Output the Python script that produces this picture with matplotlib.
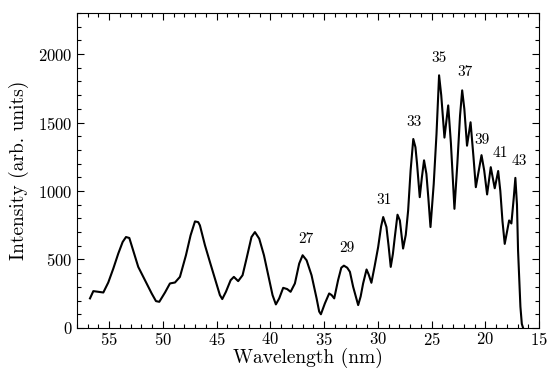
import numpy as np
import matplotlib
matplotlib.use("Agg")
import matplotlib.pyplot as plt
from matplotlib.ticker import MultipleLocator

plt.rcParams["font.family"] = "serif"
plt.rcParams["font.serif"] = ["cmr10", "DejaVu Serif"]
plt.rcParams["mathtext.fontset"] = "cm"
plt.rcParams["axes.formatter.use_mathtext"] = True

# spectrum (wavelength in nm, intensity in arb. units)
wavelength = [
    56.79, 56.48, 56.0, 55.55, 55.09, 54.62, 54.16, 53.75, 53.44, 53.13,
    52.83, 52.3, 51.67, 51.05, 50.65, 50.34, 49.81, 49.35, 48.88, 48.42,
    47.86, 47.43, 47.02, 46.72, 46.56, 46.09, 45.63, 45.16, 44.7, 44.48,
    44.14, 43.7, 43.4, 43.0, 42.59, 42.22, 41.76, 41.44, 41.04, 40.6,
    40.2, 39.8, 39.49, 39.18, 38.81, 38.44, 38.12, 37.72, 37.32, 37.0,
    36.63, 36.17, 35.7, 35.46, 35.3, 34.93, 34.53, 34.3, 34.06, 33.7,
    33.4, 33.16, 32.85, 32.6, 32.3, 31.83, 31.6, 31.37, 31.05, 30.85,
    30.6, 30.3, 29.97, 29.7, 29.5, 29.2, 29.0, 28.8, 28.6, 28.42,
    28.17, 27.95, 27.65, 27.4, 27.18, 26.95, 26.7, 26.5, 26.35, 26.1,
    25.9, 25.7, 25.48, 25.3, 25.1, 24.8, 24.54, 24.3, 24.1, 23.8,
    23.45, 23.2, 22.87, 22.6, 22.35, 22.15, 21.95, 21.7, 21.37, 21.1,
    20.88, 20.6, 20.35, 20.1, 19.83, 19.49, 19.12, 18.8, 18.6, 18.4,
    18.19, 17.78, 17.57, 17.35, 17.2, 17.05, 16.95, 16.73, 16.6, 16.48,
]
intensity = [
    216, 269, 264, 259, 332, 434, 543, 628, 664, 657,
    580, 446, 349, 252, 196, 191, 259, 325, 332, 373,
    531, 676, 778, 773, 749, 604, 482, 361, 240, 211,
    264, 349, 373, 342, 385, 507, 664, 700, 652, 531,
    385, 240, 172, 216, 293, 284, 264, 325, 470, 531,
    494, 385, 216, 120, 100, 179, 252, 240, 216, 349,
    440, 455, 440, 410, 301, 167, 230, 325, 427, 390,
    330, 450, 591, 740, 810, 737, 600, 446, 540, 664,
    827, 785, 580, 680, 858, 1150, 1380, 1320, 1198, 955,
    1100, 1224, 1125, 950, 737, 1050, 1416, 1845, 1700, 1390,
    1625, 1350, 870, 1200, 1550, 1735, 1600, 1331, 1502, 1250,
    1028, 1150, 1262, 1150, 975, 1174, 1020, 1146, 1000, 780,
    614, 785, 763, 950, 1096, 900, 567, 155, 30, 0,
]

# harmonic order labels
orders = ["27", "29", "31", "33", "35", "37", "39", "41", "43"]
label_x = [36.7, 32.9, 29.4, 26.65, 24.33, 21.9, 20.26, 18.59, 16.8]
label_y = [645, 584, 936, 1505, 1969, 1869, 1375, 1275, 1215]

fig = plt.figure(figsize=(5.5, 3.71), dpi=100)
ax = fig.add_axes([0.14, 0.116, 0.84, 0.849])

ax.plot(wavelength, intensity, color="black", linewidth=1.5)

for txt, x, y in zip(orders, label_x, label_y):
    ax.text(x, y, txt, fontsize=11, ha="center", va="center")

ax.set_xlim(58, 15)
ax.set_ylim(0, 2300)
ax.xaxis.set_major_locator(MultipleLocator(5))
ax.xaxis.set_minor_locator(MultipleLocator(1))
ax.yaxis.set_major_locator(MultipleLocator(500))
ax.yaxis.set_minor_locator(MultipleLocator(100))
ax.tick_params(which="both", direction="in", top=True, right=True,
               labelsize=12, width=0.8)
ax.tick_params(which="major", length=5)
ax.tick_params(which="minor", length=3)
ax.tick_params(axis="x", pad=2)

ax.set_xlabel("Wavelength (nm)", fontsize=14, labelpad=0)
ax.set_ylabel("Intensity (arb. units)", fontsize=14, labelpad=6)

fig.savefig("out.png", dpi=100)
